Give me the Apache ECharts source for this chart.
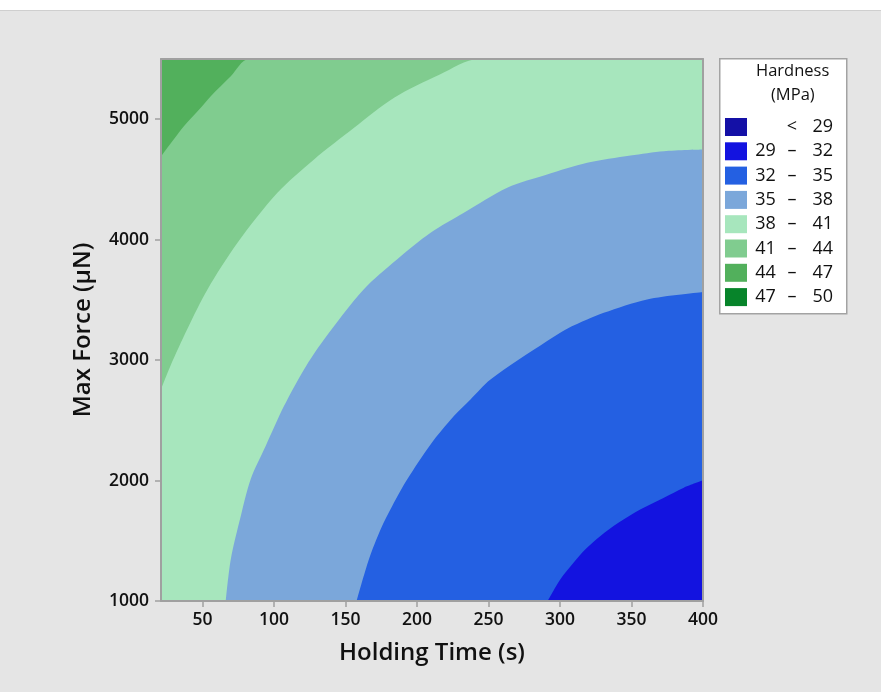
<!DOCTYPE html>
<html>
<head>
<meta charset="utf-8">
<script src="https://cdn.jsdelivr.net/npm/echarts@6/dist/echarts.min.js"></script>
<style>
html,body{margin:0;padding:0;background:#e5e5e5;}
#chart{width:881px;height:692px;}
</style>
</head>
<body>
<div id="chart"></div>
<script>
// Axis ranges and tick labels
const xRange = [21, 400];
const yRange = [1000, 5500];
const xTicks = [50, 100, 150, 200, 250, 300, 350, 400];
const yTicks = [1000, 2000, 3000, 4000, 5000];

// Legend classes (Hardness, MPa)
const classNames = ['<29', '29-32', '32-35', '35-38', '38-41', '41-44', '44-47', '47-50'];
const classLabels = [['', '<', '29'], ['29', '–', '32'], ['32', '–', '35'], ['35', '–', '38'],
                     ['38', '–', '41'], ['41', '–', '44'], ['44', '–', '47'], ['47', '–', '50']];
const classColors = ['#1410a6', '#1313e0', '#2460e2', '#7ba7da', '#a7e6bd', '#80cc8f', '#52b05c', '#07842a'];

// Contour boundaries: [Holding Time, Max Force]
// upper limit of the plotted surface (top of 44-47 zone)
const top47 = [[21, 5500], [400, 5500]];
// 44 contour (between 41-44 and 44-47)
const line44 = [[21, 4690], [37, 4942], [48.8, 5095], [55.8, 5191], [69.8, 5357], [82.5, 5500], [400, 5500]];
// 41 contour
const line41 = [[21, 2757], [27.5, 2950], [39.5, 3261], [53.5, 3587], [74.5, 3974], [102.4, 4389],
                [128, 4666], [156, 4929], [184, 5178], [216, 5371], [243, 5500], [400, 5500]];
// 38 contour
const line38 = [[66.3, 1000], [69.8, 1346], [76.8, 1705], [83.7, 2010], [94.2, 2286],
                [107, 2618], [121, 2923], [135, 3172], [162.7, 3587], [186, 3836], [209.5, 4057],
                [232.8, 4223], [263.1, 4431], [291, 4541], [319, 4638], [349.3, 4699], [372.7, 4735], [400, 4749]];
// 35 contour
const line35 = [[157.8, 1000], [166.4, 1346], [174.6, 1595], [182.7, 1788], [193.2, 2010], [209.5, 2300],
                [225.8, 2535], [237.4, 2673], [251.4, 2839], [291, 3158], [305, 3261], [319, 3338],
                [330.6, 3393], [360.9, 3504], [400, 3565]];
// 32 contour
const line32 = [[291.4, 1000], [300.3, 1180], [309.6, 1319], [317.8, 1429], [328.3, 1540], [341.1, 1651],
                [356.4, 1761], [372.7, 1858], [386.6, 1941], [400, 2002]];

const FONT = 'Open Sans';

function areaSeries(name, color, data) {
  return {
    name: name, type: 'line', data: data, color: color,
    showSymbol: false, symbol: 'none', smooth: 0.3,
    lineStyle: { width: 0, color: color },
    areaStyle: { color: color, opacity: 1, origin: 'start' },
    itemStyle: { color: color },
    silent: true, animation: false, clip: true
  };
}
function emptySeries(name, color) {
  return { name: name, type: 'line', data: [], color: color, itemStyle: { color: color }, lineStyle: { color: color } };
}

const chart = echarts.init(document.getElementById('chart'), null, { renderer: 'canvas' });
const frameColor = '#a0a0a0';
const plain = function (v) { return String(v); };
const option = {
  backgroundColor: '#e5e5e5',
  animation: false,
  textStyle: { fontFamily: FONT },
  grid: { left: 161, right: 178, top: 59, bottom: 91, containLabel: false, outerBoundsMode: 'none' },
  xAxis: [{
    type: 'value', min: xRange[0], max: xRange[1],
    name: 'Holding Time (s)', nameLocation: 'middle', nameGap: 40,
    nameTextStyle: { fontFamily: FONT, fontSize: 24, fontWeight: 600, color: '#111' },
    axisLine: { show: true, onZero: false, lineStyle: { color: frameColor, width: 2 } },
    axisTick: { show: true, length: 6, customValues: xTicks, lineStyle: { color: frameColor, width: 1.5 } },
    axisLabel: { customValues: xTicks, formatter: plain, fontFamily: FONT, fontSize: 17.5, fontWeight: 600, color: '#111', margin: 10 },
    splitLine: { show: false }, z: 10
  }, {
    type: 'value', position: 'top', min: xRange[0], max: xRange[1],
    axisLine: { show: true, onZero: false, lineStyle: { color: frameColor, width: 2 } },
    axisTick: { show: false }, axisLabel: { show: false }, splitLine: { show: false }, z: 10
  }],
  yAxis: [{
    type: 'value', min: yRange[0], max: yRange[1],
    name: 'Max Force (µN)', nameLocation: 'middle', nameGap: 66, nameRotate: 90,
    nameTextStyle: { fontFamily: FONT, fontSize: 24, fontWeight: 600, color: '#111' },
    axisLine: { show: true, onZero: false, lineStyle: { color: frameColor, width: 2 } },
    axisTick: { show: true, length: 6, customValues: yTicks, lineStyle: { color: frameColor, width: 1.5 } },
    axisLabel: { customValues: yTicks, formatter: plain, fontFamily: FONT, fontSize: 17.5, fontWeight: 600, color: '#111', margin: 12 },
    splitLine: { show: false }, z: 10
  }, {
    type: 'value', position: 'right', min: yRange[0], max: yRange[1],
    axisLine: { show: true, onZero: false, lineStyle: { color: frameColor, width: 2 } },
    axisTick: { show: false }, axisLabel: { show: false }, splitLine: { show: false }, z: 10
  }],
  legend: {
    data: classNames, orient: 'vertical', left: 725, top: 118,
    itemWidth: 22, itemHeight: 18, itemGap: 6.3, icon: 'rect', selectedMode: false, z: 20,
    padding: 0,
    formatter: function (name) {
      const p = classLabels[classNames.indexOf(name)];
      return '{a|' + p[0] + '}{d|' + p[1] + '}{b|' + p[2] + '}';
    },
    textStyle: {
      fontFamily: FONT, fontSize: 18, color: '#111', lineHeight: 18,
      rich: {
        a: { width: 27, align: 'right', fontFamily: FONT, fontSize: 18, color: '#111', lineHeight: 18 },
        d: { width: 26, align: 'center', fontFamily: FONT, fontSize: 18, color: '#111', lineHeight: 18 },
        b: { width: 28, align: 'right', fontFamily: FONT, fontSize: 18, color: '#111', lineHeight: 18 }
      }
    }
  },
  graphic: [
    { type: 'rect', left: 0, top: 0, z: 0, shape: { width: 881, height: 10 }, style: { fill: '#ffffff' } },
    { type: 'rect', left: 0, top: 10, z: 0, shape: { width: 881, height: 1 }, style: { fill: '#cfcfcf' } },
    { type: 'rect', left: 719, top: 58, z: 1, shape: { width: 127, height: 255 },
      style: { fill: '#ffffff', stroke: '#a3a3a3', lineWidth: 1.5 } },
    { type: 'text', left: 756, top: 63, z: 2,
      style: { text: 'Hardness', fontFamily: FONT, fontSize: 16.5, fill: '#111' } },
    { type: 'text', left: 771, top: 87, z: 2,
      style: { text: '(MPa)', fontFamily: FONT, fontSize: 16.5, fill: '#111' } }
  ],
  series: [
    emptySeries(classNames[7], classColors[7]),
    emptySeries(classNames[0], classColors[0]),
    areaSeries(classNames[6], classColors[6], top47),
    areaSeries(classNames[5], classColors[5], line44),
    areaSeries(classNames[4], classColors[4], line41),
    areaSeries(classNames[3], classColors[3], line38),
    areaSeries(classNames[2], classColors[2], line35),
    areaSeries(classNames[1], classColors[1], line32)
  ]
};
chart.setOption(option);
</script>
</body>
</html>
